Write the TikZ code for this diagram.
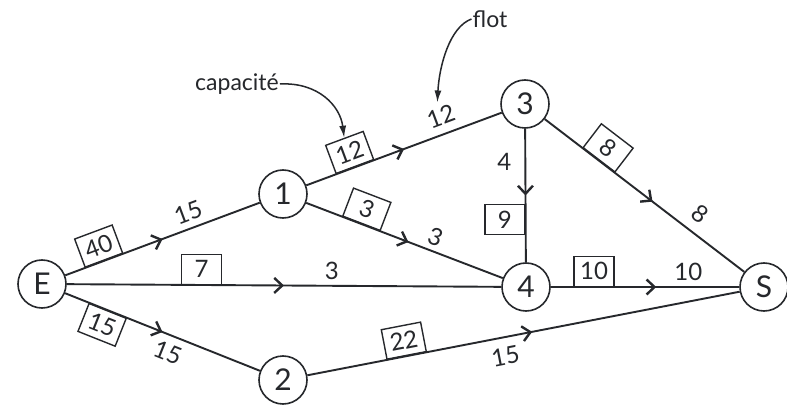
\documentclass[tikz,border=0pt]{standalone}
\usepackage{fontspec}
\setmainfont{Lato}
\usetikzlibrary{arrows.meta,decorations.markings,calc}

\definecolor{ink}{RGB}{38,40,44}

\tikzset{
  vertex/.style={circle, draw=ink, line width=1.6pt, minimum size=48pt, inner sep=0pt,
                 text=ink, font=\fontsize{30}{30}\selectfont},
  capbox/.style={draw=ink, line width=1.4pt, minimum width=40pt, minimum height=30pt,
                 inner sep=1pt, text=ink, font=\fontsize{24}{24}\selectfont},
  flowlbl/.style={inner sep=1pt, text=ink, font=\fontsize{24}{24}\selectfont},
  arc/.style={draw=ink, line width=1.9pt, postaction={decorate},
              decoration={markings, mark=at position #1 with
                {\arrow[ink]{Straight Barb[length=8pt,width=15pt,line width=2.4pt]}}}},
  arc/.default=0.5,
  note/.style={inner sep=1pt, text=ink, font=\fontsize{23}{23}\selectfont},
  pointer/.style={draw=ink, line width=1.5pt, -{Latex[length=12pt,width=7pt]}},
}

\begin{document}
\begin{tikzpicture}[x=1pt, y=-1pt]
  \useasboundingbox[fill=white] (0,0) rectangle (787,406);

  % vertices of the network
  \node[vertex] (E)  at (42,284)  {E};
  \node[vertex] (n1) at (283,194) {1};
  \node[vertex] (n2) at (283,380) {2};
  \node[vertex] (n3) at (525,104) {3};
  \node[vertex] (n4) at (526,287) {4};
  \node[vertex] (S)  at (764,287) {S};

  % arcs: boxed capacity, arrow, flow value
  \draw[arc=0.5] (E) -- (n1)
    node[capbox, sloped, anchor=south, pos=0.20] (c40) {40}
    node[flowlbl, sloped, above=5pt, pos=0.66] (f15a) {15};
  \draw[arc=0.5] (E) -- (n4)
    node[capbox, anchor=south, pos=0.31] (c7) {7}
    node[flowlbl, above=4pt, pos=0.61] (f3a) {3};
  \draw[arc=0.5] (E) -- (n2)
    node[capbox, sloped, anchor=north, pos=0.22] (c15) {15}
    node[flowlbl, sloped, below=7pt, pos=0.56] (f15b) {15};
  \draw[arc=0.5] (n1) -- (n3)
    node[capbox, sloped, anchor=south, pos=0.25] (c12) {12}
    node[flowlbl, sloped, above=7pt, pos=0.72] (f12) {12};
  \draw[arc=0.52] (n1) -- (n4)
    node[capbox, sloped, anchor=south, pos=0.28] (c3) {3}
    node[flowlbl, sloped, above=4pt, pos=0.63] (f3b) {3};
  \draw[arc=0.5] (n3) -- (n4)
    node[flowlbl, left=12pt, pos=0.25] (f4) {4}
    node[capbox, anchor=east, pos=0.68] (c9) {9};
  \draw[arc=0.54] (n3) -- (S)
    node[capbox, sloped, anchor=south, pos=0.27] (c8) {8}
    node[flowlbl, sloped, above=9pt, pos=0.72] (f8) {8};
  \draw[arc=0.56] (n4) -- (S)
    node[capbox, anchor=south, pos=0.23] (c10) {10}
    node[flowlbl, above=4pt, pos=0.73] (f10) {10};
  \draw[arc=0.52] (n2) -- (S)
    node[capbox, sloped, anchor=south, pos=0.23] (c22) {22}
    node[flowlbl, sloped, below=8pt, pos=0.45] (f15c) {15};

  % legend pointers
  \node[note] (capa) at (237,84) {capacité};
  \node[note] (flot) at (490,19) {flot};
  \draw[pointer] (capa.east) .. controls +(38,-2) and +(-4,-32) .. (c12.north);
  \draw[pointer, shorten >=4pt] (flot.west) .. controls +(-22,8) and +(2,-40) .. (f12.north);
\end{tikzpicture}
\end{document}
